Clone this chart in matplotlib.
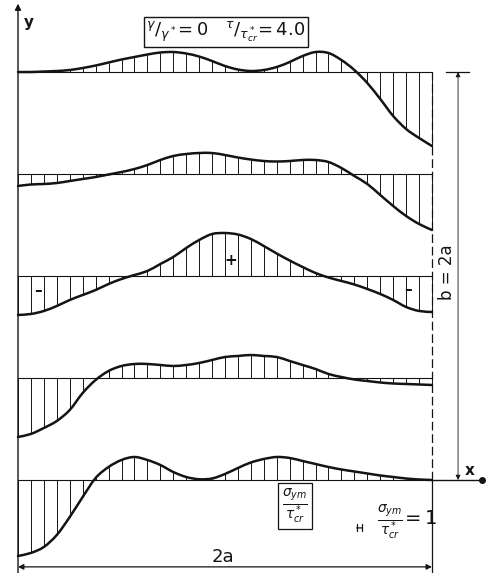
import numpy as np
import matplotlib.pyplot as plt
from matplotlib.path import Path
from matplotlib.patches import PathPatch

# stress sigma_ym / tau_cr* along the plate width, read at the hatch lines
x_pos = np.linspace(0, 2, 33)  # x / a
edge_y = [2.0, 1.5, 1.0, 0.5, 0.0]  # y / a of each section

sig_y20 = [0, 0, 0.1, 0.2, 0.4, 0.8, 1.3, 1.9, 2.5, 3.0, 3.5, 3.9, 4.0, 3.7, 3.1, 2.2,
           1.2, 0.5, 0.2, 0.4, 1.0, 2.0, 3.2, 4.0, 3.8, 2.4, 0.4, -2.2, -5.4, -8.8,
           -11.4, -13.2, -14.8]
sig_y15 = [-2.4, -2.1, -2.0, -1.8, -1.4, -1.0, -0.6, -0.1, 0.4, 1.0, 1.8, 2.8, 3.6, 4.0,
           4.2, 4.2, 3.8, 3.3, 2.9, 2.6, 2.5, 2.6, 2.8, 2.8, 2.4, 1.2, -0.4, -2.0, -4.2,
           -6.4, -8.4, -10.0, -11.2]
sig_y10 = [-7.8, -7.6, -7.0, -6.0, -4.8, -3.8, -2.8, -1.6, -0.6, 0.2, 1.0, 2.4, 3.8, 5.6,
           7.2, 8.4, 8.6, 8.3, 7.4, 6.0, 4.5, 3.1, 1.8, 0.6, -0.3, -1.0, -1.7, -2.6, -3.6,
           -4.8, -6.2, -7.0, -7.2]
sig_y05 = [-11.8, -11.2, -10.0, -8.6, -6.4, -3.0, -0.4, 1.4, 2.4, 2.8, 2.8, 2.6, 2.4, 2.6,
           3.0, 3.6, 4.2, 4.4, 4.6, 4.4, 4.2, 3.4, 2.6, 1.8, 0.8, 0.2, -0.3, -0.6, -0.9,
           -1.1, -1.2, -1.3, -1.4]
sig_y00 = [-15.2, -14.6, -13.4, -11.0, -7.4, -3.4, 0.4, 2.6, 4.0, 4.6, 4.0, 3.0, 1.6, 0.6,
           0.15, 0.3, 1.2, 2.4, 3.5, 4.2, 4.6, 4.4, 3.8, 3.2, 2.6, 2.1, 1.7, 1.3, 0.9, 0.6,
           0.3, 0.1, 0.0]
sections = [sig_y20, sig_y15, sig_y10, sig_y05, sig_y00]

scale = 0.0245  # plate units for sigma_ym/tau_cr* = 1
ink = '#141414'


def smooth_path(xs, ys):
    # Catmull-Rom through the read points, drawn as cubic bezier segments
    p = np.column_stack([xs, ys])
    p = np.vstack([p[0], p, p[-1]])
    verts = [p[1]]
    codes = [Path.MOVETO]
    for i in range(1, len(p) - 2):
        c1 = p[i] + (p[i + 1] - p[i - 1]) / 6
        c2 = p[i + 1] - (p[i + 2] - p[i]) / 6
        verts += [c1, c2, p[i + 1]]
        codes += [Path.CURVE4] * 3
    return Path(verts, codes)


fig = plt.figure(figsize=(4.86, 5.73), dpi=100)
ax = fig.add_axes([0, 0, 1, 1])
ax.set_xlim(-0.087, 2.261)
ax.set_ylim(-0.456, 2.353)
ax.axis('off')

for y0, sig in zip(edge_y, sections):
    curve = y0 + scale * np.array(sig)
    ax.plot([0, 2], [y0, y0], color=ink, lw=0.8)
    ax.vlines(x_pos, y0, curve, color=ink, lw=0.7)
    ax.add_patch(PathPatch(smooth_path(x_pos, curve), fill=False, ec=ink, lw=1.8,
                           capstyle='round'))

# y axis with arrow
ax.annotate('', xy=(0, 2.335), xytext=(0, -0.456),
            arrowprops=dict(arrowstyle='-|>', color=ink, lw=1.0, mutation_scale=9,
                            shrinkA=0, shrinkB=0))
ax.text(0.03, 2.245, 'y', fontsize=11, fontweight='bold', color=ink, va='center')

# right edge of the plate
ax.plot([2, 2], [0, 2], color=ink, lw=0.9, ls=(0, (7, 3)))
ax.plot([2, 2], [-0.456, 0], color=ink, lw=0.9)

# x axis
ax.plot([2, 2.245], [0, 0], color=ink, lw=1.0)
ax.plot(2.242, 0, 'o', color=ink, ms=4)
ax.text(2.18, 0.045, 'x', fontsize=11, fontweight='bold', color=ink, ha='center', va='center')

# b = 2a dimension
ax.plot([2.07, 2.18], [2, 2], color=ink, lw=0.9)
ax.annotate('', xy=(2.126, 2), xytext=(2.126, 0),
            arrowprops=dict(arrowstyle='<|-|>', color=ink, lw=0.6, mutation_scale=7,
                            shrinkA=0, shrinkB=0))
ax.text(2.072, 1.02, 'b = 2a', rotation=90, fontsize=12, color=ink, ha='center', va='center')

# 2a dimension
ax.annotate('', xy=(0, -0.426), xytext=(2, -0.426),
            arrowprops=dict(arrowstyle='<|-|>', color=ink, lw=0.9, mutation_scale=8,
                            shrinkA=0, shrinkB=0))
ax.text(0.99, -0.377, '2a', fontsize=13, color=ink, ha='center', va='center')

# signs
ax.text(1.029, 1.074, '+', fontsize=11, fontweight='bold', color=ink, ha='center', va='center')
ax.text(0.097, 0.931, '\u2013', fontsize=11, fontweight='bold', color=ink, ha='center', va='center')
ax.text(1.884, 0.936, '\u2013', fontsize=11, fontweight='bold', color=ink, ha='center', va='center')

# parameters box
ax.text(1.005, 2.196,
        r'${}^{\gamma}/{}_{\gamma^*}\!=0\quad {}^{\tau}/{}_{\tau^*_{cr}}\!=4.0$',
        fontsize=13, color=ink, ha='center', va='center',
        bbox=dict(boxstyle='square,pad=0.15', fc='white', ec=ink, lw=1.0))

# stress label box and scale
ax.text(1.338, -0.127, r'$\frac{\sigma_{ym}}{\tau^*_{cr}}$', fontsize=14, color=ink,
        ha='center', va='center',
        bbox=dict(boxstyle='square,pad=0.2', fc='white', ec=ink, lw=0.9))
ax.annotate('', xy=(1.636, -0.235), xytext=(1.636 + scale, -0.235),
            arrowprops=dict(arrowstyle='|-|, widthA=0.25, widthB=0.25', color=ink, lw=0.9,
                            shrinkA=0, shrinkB=0))
ax.text(1.879, -0.206, r'$\frac{\sigma_{ym}}{\tau^*_{cr}}\!=1$', fontsize=14, color=ink,
        ha='center', va='center')

fig.savefig('out.png', dpi=100, facecolor='white')
